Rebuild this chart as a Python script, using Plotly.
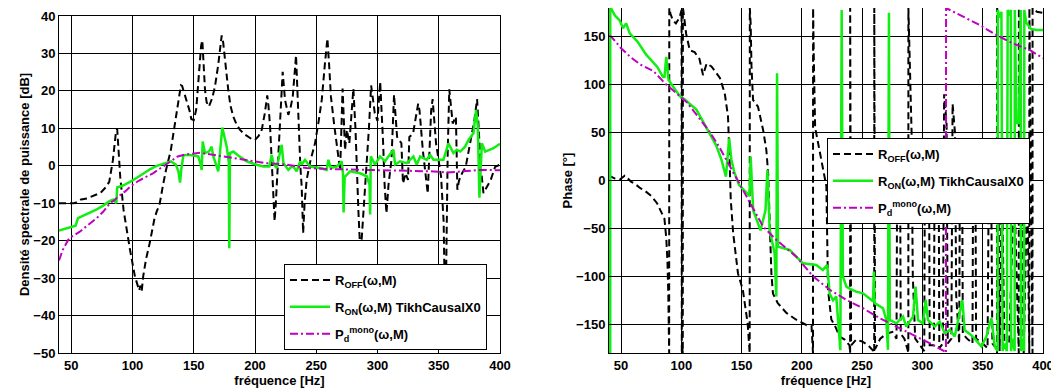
import plotly.graph_objects as go
from plotly.subplots import make_subplots

# --- densite spectrale (left) ---
f_off_db = [40, 44, 48, 52, 54, 58, 63, 68, 74, 78, 81, 84, 86.5, 87.5, 88.7, 90, 92.7, 95, 98, 102,
            104, 105.5, 106.5, 107.5, 108.7, 111, 114, 118, 120, 122, 125, 127.3, 131.3, 135.3, 139.5,
            140.5, 143.3, 146.5, 148, 150, 152, 154, 156, 157, 158, 159.2, 160.5, 162.4, 165, 167.3,
            170, 172.8, 174, 176, 178.2, 180, 182.3, 185, 187.8, 191, 194.6, 197, 200, 203, 205.5,
            208, 210, 211, 212.3, 213.5, 215, 216, 217, 218.5, 220.4, 222.6, 224.5, 227.2, 229, 230.8,
            233.5, 235.4, 237, 238.1, 239.3, 240.5, 242.2, 245, 249, 252, 254.5, 257, 259.1, 260.5,
            262, 264.8, 268, 269.5, 271.5, 273.5, 275, 277, 280.3, 282, 284.4, 285.5, 287, 289, 291,
            293, 294.8, 297.8, 300, 302.2, 304.6, 305.8, 307.3, 309, 311.4, 313.5, 316, 319.5, 320.8,
            323, 324.9, 326, 329, 333.2, 334.3, 337, 341, 343.8, 345, 347.8, 351.9, 354, 355.4, 356.2,
            357.3, 358.6, 361.4, 364, 365.2, 366.5, 369, 372, 376, 379, 381.3, 382.5, 384.3, 386.5,
            388, 392.4, 396, 400]
v_off_db = [-10, -10, -10.2, -10, -9.8, -9, -8.7, -8, -7.2, -5.8, -4.3, 1.5, 9.1, 9.8, 3.3, -3, -11.8,
            -17, -22.5, -29.6, -31.5, -33.3, -32, -33.5, -29.6, -25, -20.7, -14, -12, -10.5, -5, -1.2,
            4.2, 13.1, 21.5, 21.3, 18.4, 14.8, 12.5, 12.2, 15, 23.7, 32, 33.5, 28, 20.2, 17, 15.8, 18,
            21.1, 27, 34.8, 33, 26, 20.2, 16, 13.1, 11, 9.6, 8.5, 7.8, 7.2, 6.9, 8, 9.6, 14, 18.8, 16,
            10.5, 2, -10, -14.8, -10, 0, 13.1, 25.1, 17.6, 13.6, 15.5, 18.4, 29.5, 10.5, 0, -5.5, -18,
            -10, -3.7, 1, 6, 12, 17.6, 27, 34, 27, 18.4, 10.5, 1.6, -1.2, 20.6, 4.2, 9.6, 6, 20.6, 10,
            -12, -19.8, -20, -10, -2.9, 10, 21.5, 14, 12, 22.4, 6, -5, -12.7, -5, 1.5, 19, 7.7, 6, -4.7,
            -2, -3.8, 7.7, 8.6, 16.6, 14.8, 4.2, -7.4, 14.8, 17.8, 6, -2.9, -15, -45, -20, 3.3, 20.4,
            11.3, 13.1, -6.4, -4, -2, -0.3, 6.8, 12, 17.8, 10, -0.3, -7.3, -6.5, -3.8, -0.3, 0.3]

f_on_db = [40, 45, 50, 53.5, 55.5, 60, 63.3, 70, 76.7, 81.6, 84.7, 86.8, 87.5, 92.7, 100.7, 108.7, 115,
           119.3, 125, 131.3, 135.3, 137.5, 138.8, 139.8, 141.5, 143, 148.7, 153.7, 155.5, 156.5, 157.3,
           159.2, 162.4, 164.6, 166, 170, 173.3, 176.9, 178.6, 179, 179.6, 182.3, 186, 193.2, 200,
           206.8, 211.7, 213.6, 215, 217.7, 221.8, 223.2, 227.2, 229, 231.3, 234, 236.8, 238.1, 240.8,
           244.9, 253.1, 258.5, 259.9, 261.8, 266.7, 270.8, 271.8, 272.3, 273.2, 277.6, 285.8, 291.2,
           293.5, 294, 294.5, 298, 302.1, 306.2, 308.9, 313, 314.4, 318.4, 323.9, 329.3, 332.1, 334.8,
           340.2, 343, 345.7, 353.8, 357.9, 362, 364.7, 367.5, 371.5, 374.3, 378.3, 380.5, 381.9,
           383.2, 385.2, 387.9, 394.7, 400]
v_on_db = [-17.3, -16.8, -16.3, -16, -14, -13.3, -12.9, -11.8, -10.5, -9.4, -9, -10, -5.8, -5.2, -3.8,
           -2, -0.8, -0.1, 0.6, 1.2, 0.3, -1.5, -4.5, -1, 2.7, 2.9, 2.8, 2.5, 0.5, -1.1, 6.5, 3.4, 3.8,
           5.1, 2.5, -1.5, 10.2, 5.1, 1, -22, 3.4, 3.8, 2.8, 1.2, 0.4, -0.2, -0.2, 2.9, 0.7, -0.6, 5.6,
           0.7, -1.1, -0.5, -0.2, -1.5, 1.2, 0.3, 1.6, -0.2, -0.6, -1.1, 1.6, -0.6, -0.2, 1.2, -2,
           -12.5, -3, -1.5, -2, -2.8, -5, -13, 2.5, 0.3, 2.5, 1.2, 2.5, 4.3, 0.3, 1.2, 0.7, 2.5, 0.3,
           2.5, 1.6, 2.9, 1.6, 1.6, 6, 3.4, 4.3, 3.8, 5.1, 6.9, 8.7, 14.9, 10.5, -8.5, 6, 3.8, 4.7, 5.9]

f_pd_db = [40, 43, 47.5, 50.3, 53, 57, 63, 70.7, 76, 81.6, 85.7, 88, 93.8, 98, 105, 116.7, 125, 131.3,
           137, 143.3, 150, 155.1, 160, 166, 175, 182.3, 190, 198.6, 209.5, 225.9, 242.2, 264, 291.2,
           318.4, 345.7, 356.6, 372.9, 383.8, 400]
v_pd_db = [-25.3, -22.5, -19.8, -18.9, -18.4, -17.6, -16, -14, -12.3, -10, -9.1, -8.3, -6.9, -5.6, -4,
           -2, -0.2, 1.1, 2.5, 3, 3.4, 3.5, 3.2, 2.9, 2.4, 2, 1.6, 1.2, 0.7, 0.3, -0.6, -0.9, -1.1,
           -1.2, -1.5, -1.8, -1.5, -1.1, -1.2]

# --- phase (right) ---
f_off_ph = [40, 45, 49, 53, 55, 58, 62, 66, 70, 75, 80, 84, 86, 87.5, 88.5, 89.2, 89.7, 89.9,
            90, 91, 93, 95.5, 98.5, 100.2, 100.4, 100.8, 101.2, 101.3, 101.8, 104, 107, 111, 115, 118,
            121, 125, 132, 136, 138.7, 140, 141, 143, 147, 151, 155, 156.7, 156.8, 157.5, 158.2, 159.5,
            163.6, 167.8, 170.5, 172, 173.3, 174.7, 176, 180, 187, 195, 204, 208, 209.2, 209.3, 210,
            211, 213, 217.5, 220.3, 221.7, 224.4, 227.2, 231.4, 235.5, 239.5, 240, 240.05, 240.8, 245,
            250, 255, 259.5, 260, 260.05, 260.7, 265, 270, 275, 278.5, 279, 281.5, 282, 285, 288, 288.3,
            288.35, 289, 290, 291, 292, 294, 298, 301.5, 302, 305.5, 306, 309.5, 310, 313.5, 314, 317,
            318, 320, 321, 324, 325, 327, 328, 330.5, 331, 333, 333.5, 337, 341.5, 342, 344, 344.5, 350,
            354, 355, 357, 358, 361, 361.9, 362, 364, 366, 368, 372, 376, 379.5, 379.9, 380, 384, 387,
            388.6, 388.7, 391.3, 391.35, 395, 400]
v_off_ph = [5, 2, 1, 5, 3, -1, -4, -8, -11, -16, -24, -35, -40, -60, -85, -120, -165, -180,
            180, 174, 167, 164, 170, 178, -180, -175, -180, 180, 176, 153, 136, 134, 127, 110, 122, 119,
            107, 91, 67, 22, -20, -55, -97, -114, -149, -180, 180, 164, 119, 84, 77, 53, 32, 8, -45, -97,
            -118, -128, -138, -145, -151, -152, -180, 180, 120, 55, 42, 10, -6, -114, -145, -151, -163,
            -166, -172, -180, 180, -172, -166, -168, -172, -178, -180, 180, -176, -165, -160, -158, -165,
            0, 0, -160, -165, -178, -180, 180, 150, 100, 50, -100, -165, -172, -178, 10, 10, -172, -172,
            0, 0, -175, -170, 90, 60, -170, -165, 80, 50, -120, -170, 0, 0, -160, -165, -170, 0, 0, -165,
            -170, -175, 0, 0, -170, -175, -180, 180, -178, 0, -175, -170, 0, -178, -180, 180, -180, 0,
            -180, 180, -180, 180, 176, 175]

f_on_ph = [40, 41, 41.05, 42, 45, 48.9, 51.7, 54.2, 57.2, 63.6, 71, 79.9, 84.8, 86, 87.5, 89.4, 98.7,
           101.6, 112.5, 117.9, 128.8, 133.2, 137, 139.7, 141.5, 143.8, 147.8, 154.6, 156.5, 157.5,
           159.6, 165.7, 169.8, 171.4, 173.3, 177.4, 178.8, 179.4, 180.2, 189.8, 200.9, 211.9, 217.4,
           221, 223, 225.8, 228.5, 231.9, 233, 234, 236.9, 240, 245, 250.7, 259, 259.7, 260.3, 267.3,
           270, 271.4, 272.2, 272.9, 278.3, 283.9, 286.6, 292.2, 294.3, 296.3, 300.4, 302.7, 304.6,
           310.2, 314.3, 318.5, 322.6, 326.8, 333.1, 335, 341.9, 348.9, 353, 357.2, 360, 362.4, 362.5,
           364, 365.5, 366.5, 368, 370, 370.7, 372, 373.3, 373.5, 375, 376.5, 376.6, 378, 380, 381.5,
           381.8, 383, 384.3, 384.5, 386, 390, 395, 400]
v_on_ph = [-175, -180, 180, 179, 172, 167, 159, 164, 153.5, 145, 131, 118.7, 108, 108, 129, 104.8, 88,
           85.7, 74, 61.3, 37, 22, 4, 44, 22, 9.3, -4.5, -13.4, -16, 25, -31, -52, -31, 11, -52, -76,
           -121, 112, -69, -72.5, -86.4, -88.2, -93.4, -88, -118, -125, -121, -177, 178, -100, -110.8,
           -113, -116, -117.7, -126, -95, -128, -133.3, -145.5, -176.7, 175, -145.5, -149, -142,
           -152.4, -142, -110.8, -145.5, -149, -124.6, -145.5, -152.4, -147.2, -159.4, -156, -162.9,
           -124.6, -156, -162.9, -173.3, -162.9, -143.7, -173.3, -178, 178, 170, 176, -178, -170, -178,
           178, 172, 178, -178, -165, -178, 178, 60, 60, 178, -178, -165, -178, 178, 165, 158, 157, 157]

f_pd_ph = [40, 42, 50, 58.6, 66, 77, 86.7, 95, 104.3, 113, 123.4, 131, 139.7, 148, 156, 167.8, 178.8,
           195.4, 209.2, 223.1, 236.9, 250.7, 264.5, 278.3, 292.2, 306, 318.5, 319.5, 319.6, 333.7,
           347.5, 361.3, 375.1, 389, 400]
v_pd_ph = [151, 150, 138, 128, 121, 114, 101, 92, 82, 68, 51, 36, 16, -3, -22, -48, -62, -79.5, -100,
           -114, -124.6, -133.3, -143.7, -152.4, -161, -169.8, -178.5, -180, 180, 171, 162.2, 151.8,
           143, 136.2, 127.5]

x_ticks = [50, 100, 150, 200, 250, 300, 350, 400]
db_ticks = [-50, -40, -30, -20, -10, 0, 10, 20, 30, 40]
ph_ticks = [-150, -100, -50, 0, 50, 100, 150]

names = ['<b>R<sub>OFF</sub>(ω,M)</b>', '<b>R<sub>ON</sub>(ω,M) TikhCausalX0</b>',
         '<b>P<sub>d</sub><sup>mono</sup>(ω,M)</b>']
styles = [dict(color='black', width=2, dash='7px,4px'),
          dict(color='#11ee11', width=2.5),
          dict(color='#c000c0', width=2, dash='8px,3px,2px,3px')]

# page body has an 8px margin, so the figure is a bit smaller and positions are shifted
W, H, OFF = 1051, 384, 8


def xdom(left, right):
    return [(left - OFF) / W, min(1, (right - OFF) / W)]


def ydom(top, bottom):
    return [(H - (bottom - OFF)) / H, min(1, (H - (top - OFF)) / H)]


def bold_ticks(vals):
    return ['<b>%s</b>' % str(v).replace('-', '\u2212') for v in vals]


fig = make_subplots(rows=1, cols=2)

for i, (fx, fy) in enumerate([(f_off_db, v_off_db), (f_on_db, v_on_db), (f_pd_db, v_pd_db)]):
    fig.add_trace(go.Scatter(x=fx, y=fy, mode='lines', name=names[i], line=styles[i],
                             legend='legend', legendgroup='a%d' % i), row=1, col=1)
for i, (fx, fy) in enumerate([(f_off_ph, v_off_ph), (f_on_ph, v_on_ph), (f_pd_ph, v_pd_ph)]):
    fig.add_trace(go.Scatter(x=fx, y=fy, mode='lines', name=names[i], line=styles[i],
                             legend='legend2', legendgroup='b%d' % i), row=1, col=2)

axis_style = dict(showline=True, linecolor='black', linewidth=1, mirror=True,
                  showgrid=True, gridcolor='black', gridwidth=1, zeroline=False,
                  ticks='inside', ticklen=4, tickcolor='black', automargin=False,
                  tickfont=dict(size=13))

fig.update_xaxes(axis_style, range=[40, 400], tickvals=x_ticks, ticktext=bold_ticks(x_ticks),
                 title=dict(text='<b>fréquence [Hz]</b>', font=dict(size=13), standoff=0))
fig.update_xaxes(domain=xdom(59, 500), row=1, col=1)
fig.update_xaxes(domain=xdom(609, 1043), row=1, col=2)

fig.update_yaxes(axis_style)
fig.update_yaxes(range=[-50, 40], tickvals=db_ticks, ticktext=bold_ticks(db_ticks),
                 domain=ydom(16, 353),
                 title=dict(text='<b>Densité spectrale de puissance [dB]</b>', font=dict(size=13),
                            standoff=0), row=1, col=1)
fig.update_yaxes(range=[-180, 180], tickvals=ph_ticks, ticktext=bold_ticks(ph_ticks),
                 domain=ydom(7, 353),
                 title=dict(text='<b>Phase [°]</b>', font=dict(size=13), standoff=0),
                 row=1, col=2)

leg = dict(xanchor='left', yanchor='top', bordercolor='black', borderwidth=1, bgcolor='white',
           font=dict(size=13), itemwidth=40, tracegroupgap=7)
fig.update_layout(
    width=W, height=H, margin=dict(l=0, r=0, t=0, b=0),
    plot_bgcolor='white', paper_bgcolor='white',
    font=dict(family='Liberation Sans, Arial, sans-serif', size=13, color='black'),
    legend=dict(leg, x=(284 - OFF) / W, y=(H - (264 - OFF)) / H),
    legend2=dict(leg, x=(827 - OFF) / W, y=(H - (138 - OFF)) / H),
)

fig.write_html("out.html")
